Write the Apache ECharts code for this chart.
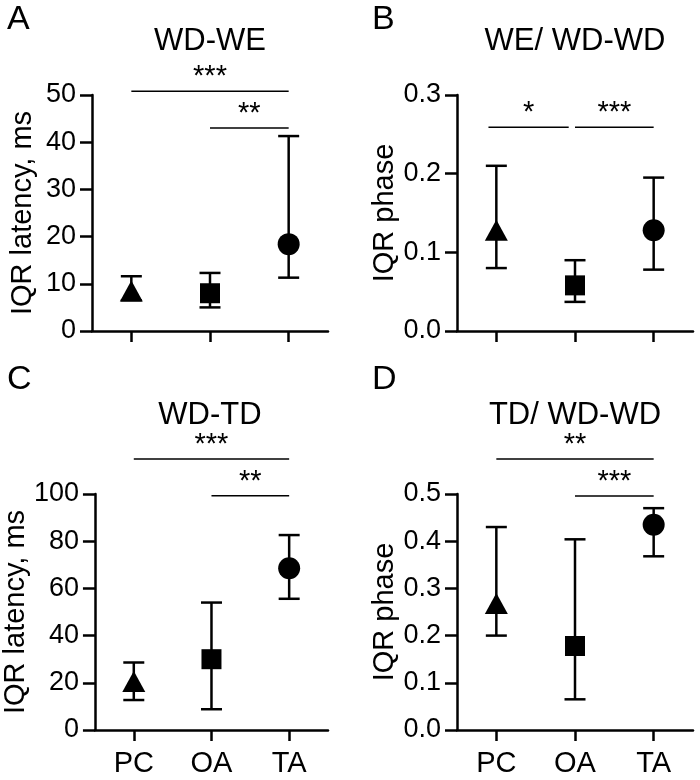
<!DOCTYPE html>
<html>
<head>
<meta charset="utf-8">
<script src="https://cdn.jsdelivr.net/npm/echarts@6/dist/echarts.min.js"></script>
<style>
html,body{margin:0;padding:0;background:#fff;}
#chart{width:700px;height:780px;}
</style>
</head>
<body>
<div id="chart"></div>
<script>
// ---------- data ----------
const categories = ['PC', 'OA', 'TA'];
const markerSymbols = ['triangle', 'rect', 'circle'];

const panelLetters = ['A', 'B', 'C', 'D'];
const panelTitles = ['WD-WE', 'WE/ WD-WD', 'WD-TD', 'TD/ WD-WD'];
const yAxisNames = ['IQR latency, ms', 'IQR phase', 'IQR latency, ms', 'IQR phase'];
const yMax = [50, 0.3, 100, 0.5];
const yInterval = [10, 0.1, 20, 0.1];
const yDecimals = [0, 1, 0, 1];

// medians and interquartile ranges (low / high)
const aMedian = [8.5, 8.0, 18.4];
const aLow = [6.5, 5.0, 11.3];
const aHigh = [11.6, 12.3, 41.3];

const bMedian = [0.128, 0.058, 0.128];
const bLow = [0.080, 0.037, 0.078];
const bHigh = [0.210, 0.090, 0.195];

const cMedian = [20.5, 30.0, 68.5];
const cLow = [12.7, 8.8, 55.6];
const cHigh = [28.6, 54.0, 82.6];

const dMedian = [0.268, 0.178, 0.435];
const dLow = [0.200, 0.065, 0.368];
const dHigh = [0.430, 0.404, 0.470];

// significance brackets (category index from / to, height, label)
const aSigFrom = [0, 1], aSigTo = [2, 2], aSigY = [50.8, 43.0], aSigLabel = ['***', '**'];
const bSigFrom = [-0.1, 1.0], bSigTo = [0.92, 2.0], bSigY = [0.259, 0.259], bSigLabel = ['*', '***'];
const cSigFrom = [0, 1], cSigTo = [2, 2], cSigY = [114.8, 99.3], cSigLabel = ['***', '**'];
const dSigFrom = [0, 1], dSigTo = [2, 2], dSigY = [0.574, 0.496], dSigLabel = ['**', '***'];

// ---------- layout ----------
const FONT = 'Liberation Sans, Arial, Helvetica, sans-serif';
const gridLefts = [92, 457, 92, 457];
const gridTops = [95, 95, 494, 494];
const titleYs = [41, 41, 415, 415];
const letterYs = [20, 20, 380, 380];
const GW = 236, GH = 236;

const medians = [aMedian, bMedian, cMedian, dMedian];
const lows = [aLow, bLow, cLow, dLow];
const highs = [aHigh, bHigh, cHigh, dHigh];
const sigFrom = [aSigFrom, bSigFrom, cSigFrom, dSigFrom];
const sigTo = [aSigTo, bSigTo, cSigTo, dSigTo];
const sigY = [aSigY, bSigY, cSigY, dSigY];
const sigLabel = [aSigLabel, bSigLabel, cSigLabel, dSigLabel];

const grids = [], xAxes = [], yAxes = [], series = [], graphics = [];

for (let p = 0; p < 4; p++) {
  grids.push({ left: gridLefts[p], top: gridTops[p], width: GW, height: GH, containLabel: false });
  xAxes.push({
    type: 'category', gridIndex: p, data: categories, boundaryGap: true,
    axisLine: { show: true, lineStyle: { color: '#000', width: 2.5 } },
    axisTick: { show: true, alignWithLabel: true, length: 11, lineStyle: { color: '#000', width: 2.5 } },
    axisLabel: { show: p >= 2, color: '#000', fontSize: 29, fontFamily: FONT, margin: 19 },
    splitLine: { show: false }
  });
  const dec = yDecimals[p];
  yAxes.push({
    type: 'value', gridIndex: p, min: 0, max: yMax[p], interval: yInterval[p],
    name: yAxisNames[p], nameLocation: 'middle', nameRotate: 90, nameGap: 55,
    nameTextStyle: { color: '#000', fontSize: 29, fontFamily: FONT },
    axisLine: { show: true, lineStyle: { color: '#000', width: 2.5 } },
    axisTick: { show: true, length: 12, lineStyle: { color: '#000', width: 2.5 } },
    axisLabel: { color: '#000', fontSize: 27, fontFamily: FONT, margin: 16,
      formatter: v => Number(v).toFixed(dec) },
    splitLine: { show: false }
  });

  // error bars
  const errData = categories.map((c, i) => [i, lows[p][i], highs[p][i]]);
  series.push({
    type: 'custom', xAxisIndex: p, yAxisIndex: p, data: errData, z: 2,
    renderItem: function (params, api) {
      const x = api.value(0);
      const lo = api.coord([x, api.value(1)]);
      const hi = api.coord([x, api.value(2)]);
      const cap = 10.5;
      const st = { stroke: '#000', lineWidth: 2.5 };
      return {
        type: 'group', children: [
          { type: 'line', shape: { x1: lo[0], y1: lo[1], x2: hi[0], y2: hi[1] }, style: st },
          { type: 'line', shape: { x1: hi[0] - cap, y1: hi[1], x2: hi[0] + cap, y2: hi[1] }, style: st },
          { type: 'line', shape: { x1: lo[0] - cap, y1: lo[1], x2: lo[0] + cap, y2: lo[1] }, style: st }
        ]
      };
    }
  });

  // markers
  series.push({
    type: 'scatter', xAxisIndex: p, yAxisIndex: p, z: 3,
    data: categories.map((c, i) => ({
      value: [i, medians[p][i]],
      symbol: markerSymbols[i],
      symbolSize: i === 0 ? [23, 21] : (i === 1 ? 20 : 22)
    })),
    itemStyle: { color: '#000', opacity: 1 },
    emphasis: { disabled: true }
  });

  // significance brackets
  const sigData = sigFrom[p].map((f, i) => [f, sigTo[p][i], sigY[p][i]]);
  series.push({
    type: 'custom', xAxisIndex: p, yAxisIndex: p, data: sigData, z: 4, clip: false,
    encode: { x: [0, 1], y: 2 },
    renderItem: function (params, api) {
      const band = api.size([1, 0])[0];
      const toPx = v => {
        const r = Math.round(v);
        return api.coord([r, api.value(2)])[0] + (v - r) * band;
      };
      const yPx = api.coord([0, api.value(2)])[1];
      const x1 = toPx(api.value(0)), x2 = toPx(api.value(1));
      const lbl = sigLabel[p][params.dataIndex];
      return {
        type: 'group', children: [
          { type: 'line', shape: { x1: x1, y1: yPx, x2: x2, y2: yPx }, style: { stroke: '#000', lineWidth: 1.5 } },
          { type: 'text', x: (x1 + x2) / 2, y: yPx - 14,
            style: { text: lbl, fill: '#000', font: '29px ' + FONT, textAlign: 'center', textVerticalAlign: 'middle' } }
        ]
      };
    }
  });

  // title text and panel letter
  graphics.push({
    type: 'text', x: gridLefts[p] + GW / 2, y: titleYs[p],
    style: { text: panelTitles[p], fill: '#000', font: '31px ' + FONT, textAlign: 'center', textVerticalAlign: 'middle' }
  });
  graphics.push({
    type: 'text', x: gridLefts[p] - 85, y: letterYs[p],
    style: { text: panelLetters[p], fill: '#000', font: '34px ' + FONT, textAlign: 'left', textVerticalAlign: 'middle' }
  });
}

const chart = echarts.init(document.getElementById('chart'), null, { renderer: 'canvas' });
chart.setOption({
  backgroundColor: '#fff',
  animation: false,
  grid: grids,
  xAxis: xAxes,
  yAxis: yAxes,
  series: series,
  graphic: graphics
});
</script>
</body>
</html>
